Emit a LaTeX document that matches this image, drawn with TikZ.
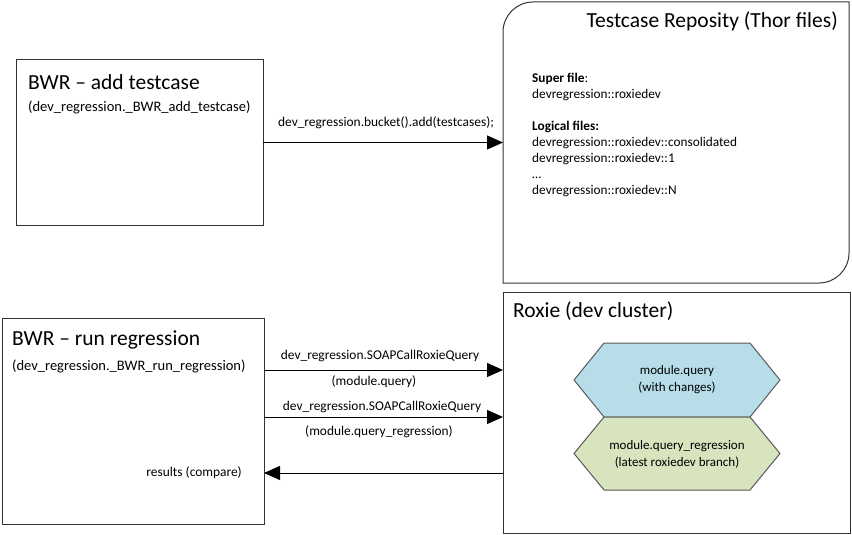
\documentclass[tikz,border=0pt]{standalone}
\usepackage{fontspec}
\setmainfont{Carlito}
\usetikzlibrary{arrows.meta,calc}
\definecolor{hexblue}{HTML}{B7DDE8}
\definecolor{hexgreen}{HTML}{D7E4BD}
\definecolor{boxline}{HTML}{333333}
\definecolor{hexline}{HTML}{595959}
\begin{document}
\begin{tikzpicture}[x=1pt,y=-1pt,
  box/.style={draw=boxline,line width=1pt,inner sep=0pt,outer sep=0pt},
  ttl/.style={font=\fontsize{21.5}{25}\selectfont,inner sep=0pt,anchor=west},
  sub/.style={font=\fontsize{14.5}{17}\selectfont,inner sep=0pt,anchor=west},
  lbl/.style={font=\fontsize{13.4}{16}\selectfont,inner sep=0pt},
  conn/.style={line width=1pt,-{Triangle[length=16pt,width=14pt]}},
  hex/.style={draw=hexline,line width=1pt},
  hextext/.style={font=\fontsize{13}{17}\selectfont,align=center,inner sep=0pt}]
\useasboundingbox (0,0) rectangle (852,535);

% boxes
\node[box,minimum width=247pt,minimum height=165pt] (b1) at (139.5,142.5) {};
\node[inner sep=0pt,outer sep=0pt,minimum width=346pt,minimum height=281pt] (b2) at (676,142.5) {};
\draw[boxline,line width=1pt] ([xshift=30pt]b2.north west) -- (b2.north east) -- ([yshift=30pt]b2.south east)
  .. controls ([yshift=13.5pt]b2.south east) and ([xshift=-13.5pt]b2.south east) .. ([xshift=-30pt]b2.south east)
  -- (b2.south west) -- ([yshift=-30pt]b2.north west)
  .. controls ([yshift=-13.5pt]b2.north west) and ([xshift=13.5pt]b2.north west) .. ([xshift=30pt]b2.north west) -- cycle;
\node[box,minimum width=262pt,minimum height=206pt] (b3) at (133,421) {};
\node[box,minimum width=347pt,minimum height=241pt] (b4) at (676.5,412.5) {};

% titles
\node[ttl] (t1) at (28,82) {BWR – add testcase};
\node[sub] (s1) at (28,107) {(dev\_regression.\_BWR\_add\_testcase)};
\node[ttl,anchor=east] (t2) at (838,21) {Testcase Reposity (Thor files)};
\node[lbl,font=\fontsize{13.3}{16}\selectfont,align=left,anchor=north west] (files) at (532,73) {\textbf{Super file}:\\devregression::roxiedev\\[16pt]\textbf{Logical files:}\\devregression::roxiedev::consolidated\\devregression::roxiedev::1\\…\\devregression::roxiedev::N};
\node[ttl] (t3) at (12,340) {BWR – run regression};
\node[sub] (s3) at (12,366) {(dev\_regression.\_BWR\_run\_regression)};
\node[ttl] (t4) at (513,311) {Roxie (dev cluster)};

% hexagons
\coordinate (hc1) at (677,380);
\coordinate (hc2) at (677,453.5);
\draw[hex,fill=hexblue] ($(hc1)+(-103,0)$) -- ($(hc1)+(-73,-37)$) -- ($(hc1)+(73,-37)$) -- ($(hc1)+(103,0)$) -- ($(hc1)+(73,37)$) -- ($(hc1)+(-73,37)$) -- cycle;
\draw[hex,fill=hexgreen] ($(hc2)+(-103,0)$) -- ($(hc2)+(-73,-36.5)$) -- ($(hc2)+(73,-36.5)$) -- ($(hc2)+(103,0)$) -- ($(hc2)+(73,36.5)$) -- ($(hc2)+(-73,36.5)$) -- cycle;
\node[hextext] (h1) at (677,380) {module.query\\(with changes)};
\node[hextext] (h2) at (677,454) {module.query\_regression\\(latest roxiedev branch)};

% connectors
\draw[conn] (b1.east) -- (b1.east -| b2.west);
\node[lbl] (l1) at (386,123) {dev\_regression.bucket().add(testcases);};

\coordinate (ya) at (0,370);
\coordinate (yb) at (0,417);
\coordinate (yc) at (0,473);
\draw[conn] (b3.east |- ya) -- (b4.west |- ya);
\draw[conn] (b3.east |- yb) -- (b4.west |- yb);
\draw[conn] (b4.west |- yc) -- (b3.east |- yc);
\node[lbl] (l2a) at (380,356) {dev\_regression.SOAPCallRoxieQuery};
\node[lbl] (l2b) at (374,382) {(module.query)};
\node[lbl] (l3a) at (382,407) {dev\_regression.SOAPCallRoxieQuery};
\node[lbl] (l3b) at (379,432) {(module.query\_regression)};
\node[lbl,anchor=east] (l4) at (242,473) {results (compare)};
\end{tikzpicture}
\end{document}
